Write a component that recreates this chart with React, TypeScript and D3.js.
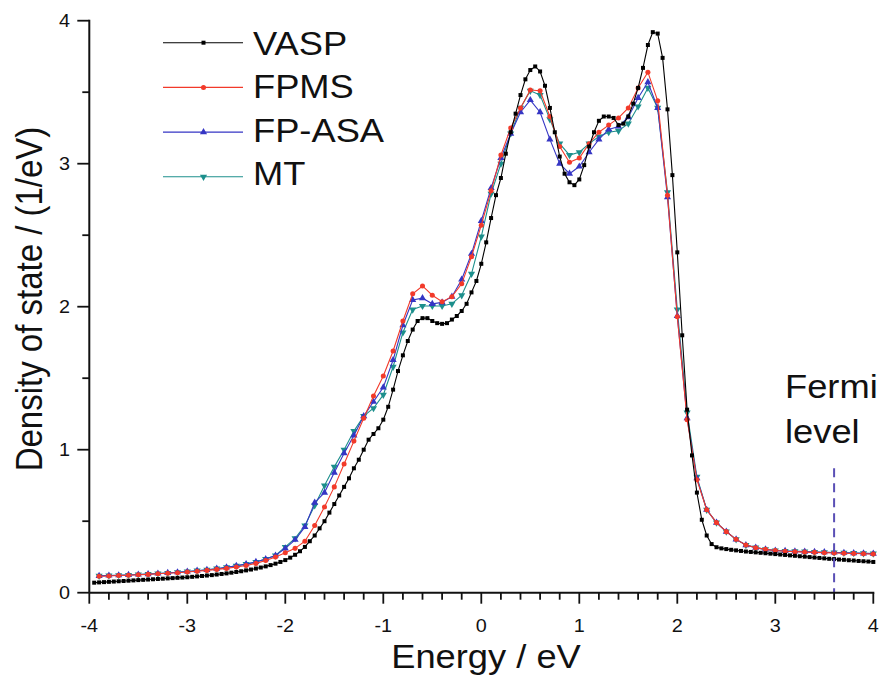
import React from "react";
import * as d3 from "d3";

const W = 879;
const H = 675;

// VASP: -3.95 .. 4.00 step 0.05
const vaspStart = -3.95;
const vaspStep = 0.05;
const vaspValues = [
  0.07, 0.072, 0.074, 0.076, 0.078, 0.08, 0.082, 0.084, 0.086, 0.088,
  0.09, 0.092, 0.094, 0.096, 0.098, 0.1, 0.102, 0.104, 0.106, 0.108,
  0.111, 0.114, 0.117, 0.12, 0.123, 0.127, 0.131, 0.135, 0.14, 0.145,
  0.15, 0.156, 0.162, 0.169, 0.176, 0.184, 0.193, 0.203, 0.215, 0.228,
  0.245, 0.265, 0.29, 0.32, 0.36, 0.4, 0.45, 0.5, 0.56, 0.62,
  0.68, 0.74, 0.8, 0.87, 0.93, 1.0, 1.07, 1.11, 1.15, 1.21,
  1.3, 1.42, 1.55, 1.66, 1.76, 1.84, 1.9, 1.92, 1.92, 1.9,
  1.885, 1.88, 1.885, 1.91, 1.935, 1.97, 2.02, 2.1, 2.18, 2.3,
  2.45, 2.62, 2.78, 2.9, 3.07, 3.22, 3.35, 3.48, 3.59, 3.655,
  3.68, 3.645, 3.545, 3.39, 3.22, 3.05, 2.93, 2.87, 2.85, 2.89,
  2.99, 3.12, 3.22, 3.3, 3.33, 3.33, 3.32, 3.27, 3.28, 3.33,
  3.42, 3.53, 3.67, 3.83, 3.92, 3.91, 3.74, 3.38, 2.92, 2.38,
  1.8, 1.28, 0.96, 0.7, 0.51, 0.4, 0.34, 0.318, 0.31, 0.305,
  0.3, 0.296, 0.292, 0.288, 0.285, 0.282, 0.279, 0.276, 0.273, 0.27,
  0.267, 0.264, 0.261, 0.258, 0.255, 0.252, 0.249, 0.246, 0.243, 0.24,
  0.237, 0.235, 0.232, 0.23, 0.227, 0.225, 0.222, 0.22, 0.218, 0.215,
];

// Other methods: -3.9 .. 4.0 step 0.1
const calcStart = -3.9;
const calcStep = 0.1;
const fpmsValues = [
  0.115, 0.117, 0.12, 0.122, 0.125, 0.128, 0.132, 0.136, 0.14, 0.145,
  0.15, 0.156, 0.163, 0.17, 0.18, 0.19, 0.205, 0.225, 0.25, 0.28,
  0.31, 0.36, 0.47, 0.6, 0.74, 0.9, 1.06, 1.22, 1.375, 1.515,
  1.69, 1.9, 2.09, 2.145, 2.08, 2.035, 2.07, 2.16, 2.35, 2.57,
  2.81, 3.06, 3.25, 3.39, 3.515, 3.51, 3.33, 3.12, 3.01, 3.04,
  3.14, 3.22, 3.27, 3.32, 3.39, 3.53, 3.64, 3.44, 2.78, 1.93,
  1.21, 0.79, 0.58, 0.49, 0.427, 0.373, 0.333, 0.315, 0.303, 0.295,
  0.29, 0.287, 0.284, 0.282, 0.28, 0.278, 0.276, 0.274, 0.272, 0.27,
];
const fpasaValues = [
  0.118, 0.12, 0.122, 0.124, 0.127, 0.13, 0.134, 0.138, 0.143, 0.148,
  0.154, 0.16, 0.168, 0.177, 0.188, 0.2, 0.215, 0.235, 0.26, 0.31,
  0.37, 0.46, 0.63, 0.7, 0.84, 0.975, 1.1, 1.235, 1.335, 1.436,
  1.627, 1.87, 2.047, 2.06, 2.02, 2.03, 2.07, 2.19, 2.37, 2.6,
  2.83, 3.04, 3.21, 3.36, 3.445, 3.36, 3.17, 3.0, 2.93, 2.98,
  3.08, 3.17, 3.24, 3.26, 3.325, 3.46, 3.57, 3.39, 2.765, 1.935,
  1.22, 0.8, 0.58, 0.49, 0.427, 0.373, 0.333, 0.315, 0.303, 0.295,
  0.292, 0.289, 0.287, 0.285, 0.283, 0.281, 0.279, 0.277, 0.275, 0.273,
];
const mtValues = [
  0.118, 0.12, 0.122, 0.124, 0.127, 0.13, 0.134, 0.138, 0.143, 0.148,
  0.154, 0.16, 0.168, 0.177, 0.188, 0.2, 0.215, 0.235, 0.26, 0.32,
  0.38, 0.47, 0.61, 0.75, 0.88, 1.0, 1.13, 1.235, 1.29, 1.383,
  1.58, 1.82, 1.98, 2.005, 2.005, 2.005, 2.02, 2.08, 2.23, 2.49,
  2.79, 3.0, 3.21, 3.39, 3.51, 3.48, 3.31, 3.14, 3.06, 3.08,
  3.14, 3.19, 3.22, 3.23, 3.28, 3.4, 3.53, 3.39, 2.8, 1.98,
  1.26, 0.81, 0.58, 0.49, 0.427, 0.373, 0.333, 0.315, 0.303, 0.295,
  0.292, 0.289, 0.287, 0.285, 0.283, 0.281, 0.279, 0.277, 0.275, 0.273,
];

const seriesNames = ["VASP", "FPMS", "FP-ASA", "MT"];
const seriesColors = ["#000000", "#f23a2a", "#3535c4", "#1c8f8c"];
const seriesMarkers = ["square", "circle", "triangle", "triangleDown"];

const xTicks = [-4, -3, -2, -1, 0, 1, 2, 3, 4];
const yTicks = [0, 1, 2, 3, 4];
const fermiLevel = 3.6;

const FONT = "'Liberation Sans', Arial, sans-serif";
const SX = 1.1; // horizontal stretch of the text in the reference

function toPoints(start: number, step: number, vals: number[]) {
  return vals.map((v, i) => ({ x: +(start + i * step).toFixed(3), y: v }));
}

function T(props: {
  x: number;
  y: number;
  size: number;
  anchor?: string;
  rotate?: number;
  children: React.ReactNode;
}) {
  const rot = props.rotate ? ` rotate(${props.rotate})` : "";
  return (
    <text
      transform={`translate(${props.x},${props.y}) scale(${SX},1)${rot}`}
      fontSize={props.size}
      textAnchor={props.anchor || "start"}
      fill="#111"
    >
      {props.children}
    </text>
  );
}

export default function App() {
  const left = 89.3;
  const right = 873.3;
  const top = 20.7;
  const bottom = 592.7;
  const x = d3.scaleLinear().domain([-4, 4]).range([left, right]);
  const y = d3.scaleLinear().domain([0, 4]).range([bottom, top]);

  const data = [
    toPoints(vaspStart, vaspStep, vaspValues),
    toPoints(calcStart, calcStep, fpmsValues),
    toPoints(calcStart, calcStep, fpasaValues),
    toPoints(calcStart, calcStep, mtValues),
  ];

  const line = d3
    .line<{ x: number; y: number }>()
    .x((d) => x(d.x))
    .y((d) => y(d.y));

  const symbolFor = (m: string, size: number) => {
    const t =
      m === "square"
        ? d3.symbolSquare
        : m === "circle"
        ? d3.symbolCircle
        : d3.symbolTriangle;
    return d3.symbol().type(t).size(size)() as string;
  };

  const markerSize = [16, 20, 22, 22];

  const renderMarker = (m: string, i: number, cx: number, cy: number, key: string) => {
    const p = symbolFor(m, markerSize[i]);
    const rot = m === "triangleDown" ? " rotate(180)" : "";
    return (
      <path
        key={key}
        d={p}
        transform={`translate(${cx},${cy})${rot}`}
        fill={seriesColors[i]}
        stroke="none"
      />
    );
  };

  const minorX = d3.range(-4, 4.0001, 0.2).map((v) => +v.toFixed(2));
  const minorY = d3.range(0, 4.0001, 0.5).map((v) => +v.toFixed(2));

  const legendX1 = 163;
  const legendX2 = 243;
  const legendY0 = 42.7;
  const legendDy = 44.7;

  return (
    <svg
      width={W}
      height={H}
      style={{ position: "absolute", left: 0, top: 0, background: "#fff" }}
      fontFamily={FONT}
    >
      <rect x={0} y={0} width={W} height={H} fill="#fff" />
      {[3, 2, 1, 0].map((i) => (
        <g key={seriesNames[i]}>
          <path d={line(data[i]) as string} fill="none" stroke={seriesColors[i]} strokeWidth={1.1} />
          {data[i].map((d, j) =>
            renderMarker(seriesMarkers[i], i, x(d.x), y(d.y), `${i}-${j}`)
          )}
        </g>
      ))}

      <line
        x1={x(fermiLevel)}
        x2={x(fermiLevel)}
        y1={y(0.87)}
        y2={bottom}
        stroke="#5a4fb5"
        strokeWidth={2}
        strokeDasharray="9,6"
      />
      <T x={785} y={398} size={33}>Fermi</T>
      <T x={785} y={443} size={33}>level</T>

      <line x1={left} x2={left} y1={top - 1} y2={bottom} stroke="#111" strokeWidth={2} />
      <line x1={left} x2={right + 1} y1={bottom} y2={bottom} stroke="#111" strokeWidth={2} />
      {minorX.map((v) => (
        <line
          key={"mx" + v}
          x1={x(v)}
          x2={x(v)}
          y1={bottom}
          y2={bottom + (Number.isInteger(v) ? 11 : 7)}
          stroke="#111"
          strokeWidth={1.8}
        />
      ))}
      {minorY.map((v) => (
        <line
          key={"my" + v}
          x1={left}
          x2={left - (Number.isInteger(v) ? 12 : 7)}
          y1={y(v)}
          y2={y(v)}
          stroke="#111"
          strokeWidth={1.8}
        />
      ))}
      {xTicks.map((v) => (
        <T key={"xt" + v} x={x(v)} y={632} size={18} anchor="middle">
          {v}
        </T>
      ))}
      {yTicks.map((v) => (
        <T key={"yt" + v} x={70} y={y(v) + 6.5} size={18} anchor="end">
          {v}
        </T>
      ))}

      <T x={486} y={668} size={33} anchor="middle">Energy / eV</T>
      <T x={42} y={299} size={33} anchor="middle" rotate={-90}>
        Density of state / (1/eV)
      </T>

      {seriesNames.map((name, i) => {
        const ly = legendY0 + i * legendDy;
        return (
          <g key={"lg" + name}>
            <line x1={legendX1} x2={legendX2} y1={ly} y2={ly} stroke={seriesColors[i]} strokeWidth={1.1} />
            {renderMarker(seriesMarkers[i], i, (legendX1 + legendX2) / 2 + 0.5, ly, "lm" + i)}
            <T x={253} y={55 + i * 43.4} size={33}>{name}</T>
          </g>
        );
      })}
    </svg>
  );
}
